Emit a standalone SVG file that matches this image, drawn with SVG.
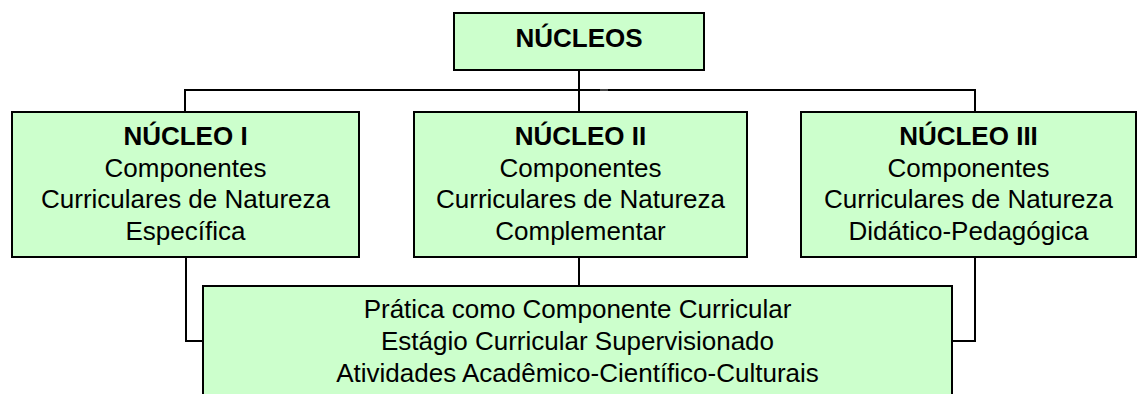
<svg xmlns="http://www.w3.org/2000/svg" width="1137" height="394" viewBox="0 0 1137 394">
<style>
.box{fill:#CCFFCC;stroke:#000;stroke-width:2}
.ln{fill:none;stroke:#000;stroke-width:2}
text{font-family:"Liberation Sans",Arial,sans-serif;font-size:26px;fill:#000;text-anchor:middle}
.b{font-weight:bold}
</style>
<rect width="1137" height="394" fill="#fff"/>
<g id="connectors">
<path class="ln" d="M579,70 V112"/>
<path class="ln" d="M185,112 V90 H975 V112"/>
<path class="ln" d="M186,257 V341 H203"/>
<path class="ln" d="M975,257 V341 H952"/>
<path class="ln" d="M579,257 V286"/>
<path d="M600,90 H608" stroke="#444" stroke-width="2"/>
</g>
<g id="nucleos">
<rect class="box" x="454" y="13" width="250" height="57"/>
<text class="b" x="579" y="47">NÚCLEOS</text>
</g>
<g id="nucleo1">
<rect class="box" x="12" y="112" width="347" height="145"/>
<text x="185.5" y="145"><tspan class="b">NÚCLEO I</tspan><tspan x="185.5" y="176.5">Componentes</tspan><tspan x="185.5" y="208">Curriculares de Natureza</tspan><tspan x="185.5" y="239.5">Específica</tspan></text>
</g>
<g id="nucleo2">
<rect class="box" x="414" y="112" width="333" height="145"/>
<text x="580.5" y="145"><tspan class="b">NÚCLEO II</tspan><tspan x="580.5" y="176.5">Componentes</tspan><tspan x="580.5" y="208">Curriculares de Natureza</tspan><tspan x="580.5" y="239.5">Complementar</tspan></text>
</g>
<g id="nucleo3">
<rect class="box" x="801" y="112" width="335" height="145"/>
<text x="968.5" y="145"><tspan class="b">NÚCLEO III</tspan><tspan x="968.5" y="176.5">Componentes</tspan><tspan x="968.5" y="208">Curriculares de Natureza</tspan><tspan x="968.5" y="239.5">Didático-Pedagógica</tspan></text>
</g>
<g id="praticas">
<rect class="box" x="203" y="286" width="749" height="130"/>
<text x="577.5" y="318">Prática como Componente Curricular<tspan x="577.5" y="350">Estágio Curricular Supervisionado</tspan><tspan x="577.5" y="382">Atividades Acadêmico-Científico-Culturais</tspan></text>
</g>
</svg>
